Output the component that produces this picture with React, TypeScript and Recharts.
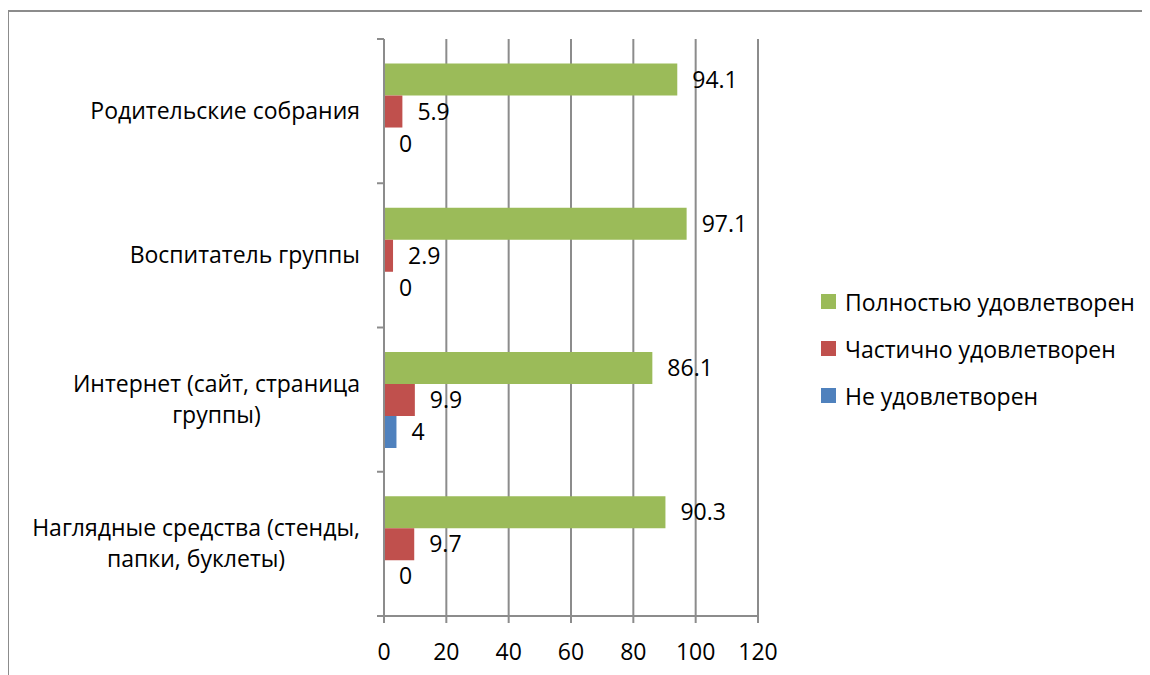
import { BarChart, Bar, XAxis, YAxis, CartesianGrid, Legend, LabelList, usePlotArea } from "recharts";

const categories = [
  "Родительские собрания",
  "Воспитатель группы",
  "Интернет (сайт, страница группы)",
  "Наглядные средства (стенды, папки, буклеты)",
];
const fullySatisfied = [94.1, 97.1, 86.1, 90.3];
const partlySatisfied = [5.9, 2.9, 9.9, 9.7];
const notSatisfied = [0, 0, 4, 0];
const xTicks = [0, 20, 40, 60, 80, 100, 120];

const seriesNames = ["Полностью удовлетворен", "Частично удовлетворен", "Не удовлетворен"];
const seriesColors = ["#9BBB59", "#C0504D", "#4F81BD"];

const data = categories.map((name, i) => ({
  name,
  full: fullySatisfied[i],
  part: partlySatisfied[i],
  none: notSatisfied[i],
}));

const FONT = "'Open Sans', sans-serif";
const FONT_SIZE = 23;
const GRID = "#8c8c8c";

let ctx: CanvasRenderingContext2D | null = null;
function textWidth(s: string) {
  if (!ctx) ctx = document.createElement("canvas").getContext("2d");
  if (!ctx) return s.length * 12;
  ctx.font = `${FONT_SIZE}px 'Open Sans'`;
  return ctx.measureText(s).width;
}

function wrap(s: string, maxW: number) {
  const words = s.split(" ");
  const lines: string[] = [];
  let cur = "";
  for (const w of words) {
    const t = cur ? cur + " " + w : w;
    if (cur && textWidth(t) > maxW) {
      lines.push(cur);
      cur = w;
    } else cur = t;
  }
  if (cur) lines.push(cur);
  return lines;
}

function CategoryTick(props: any) {
  const { x, y, payload } = props;
  const lines = wrap(payload.value, 350);
  const block = Math.max(...lines.map(textWidth));
  const lh = 31;
  const top = y - ((lines.length - 1) * lh) / 2;
  return (
    <g>
      {lines.map((l, i) => (
        <text
          key={i}
          x={x - block / 2}
          y={top + i * lh}
          dy="0.35em"
          textAnchor="middle"
          fontSize={FONT_SIZE}
          fontFamily={FONT}
          fill="#000"
        >
          {l}
        </text>
      ))}
    </g>
  );
}

// tick marks between categories on the left axis
function BoundaryTicks() {
  const area = usePlotArea();
  if (!area) return null;
  const n = categories.length;
  return (
    <g>
      {Array.from({ length: n + 1 }, (_, i) => {
        const y = area.y + (i * area.height) / n;
        return <line key={i} x1={area.x - 7} x2={area.x} y1={y} y2={y} stroke={GRID} strokeWidth={2} />;
      })}
    </g>
  );
}

function LegendBox() {
  return (
    <div style={{ fontFamily: FONT, fontSize: FONT_SIZE, color: "#000" }}>
      {seriesNames.map((name, i) => (
        <div key={name} style={{ display: "flex", alignItems: "center", height: 47 }}>
          <span style={{ width: 15, height: 15, background: seriesColors[i], marginRight: 9, display: "inline-block" }} />
          <span>{name}</span>
        </div>
      ))}
    </div>
  );
}

const valueLabel = (p: any) => (
  <text
    x={p.x + p.width + 15}
    y={p.y + p.height / 2}
    dy="0.35em"
    fontSize={FONT_SIZE}
    fontFamily={FONT}
    fill="#000"
  >
    {p.value}
  </text>
);

export default function App() {
  return (
    <div
      style={{
        marginTop: 2,
        width: 1142,
        height: 665,
        borderTop: `2px solid ${GRID}`,
        borderLeft: `1px solid ${GRID}`,
        boxSizing: "border-box",
      }}
    >
      <BarChart
        width={1140}
        height={662}
        data={data}
        layout="vertical"
        barCategoryGap="17%"
        barGap={0}
        margin={{ top: 27, right: 391, bottom: 18, left: 0 }}
      >
        <CartesianGrid horizontal={false} stroke={GRID} strokeWidth={2} />
        <XAxis
          type="number"
          domain={[0, 120]}
          ticks={xTicks}
          interval={0}
          stroke={GRID}
          strokeWidth={2}
          tickSize={7}
          tickMargin={21}
          height={40}
          tick={{ fill: "#000", fontSize: FONT_SIZE, fontFamily: FONT }}
        />
        <YAxis
          type="category"
          dataKey="name"
          width={375}
          stroke={GRID}
          strokeWidth={2}
          tickLine={false}
          tickSize={0}
          tickMargin={24}
          interval={0}
          tick={<CategoryTick />}
        />
        <BoundaryTicks />
        <Legend
          layout="vertical"
          align="center"
          verticalAlign="middle"
          content={<LegendBox />}
          wrapperStyle={{ left: 812, top: 266, width: 330 }}
        />
        <Bar dataKey="full" name={seriesNames[0]} fill={seriesColors[0]} isAnimationActive={false}>
          <LabelList dataKey="full" content={valueLabel} />
        </Bar>
        <Bar dataKey="part" name={seriesNames[1]} fill={seriesColors[1]} isAnimationActive={false}>
          <LabelList dataKey="part" content={valueLabel} />
        </Bar>
        <Bar dataKey="none" name={seriesNames[2]} fill={seriesColors[2]} minPointSize={0.01} isAnimationActive={false}>
          <LabelList dataKey="none" content={valueLabel} />
        </Bar>
      </BarChart>
    </div>
  );
}
